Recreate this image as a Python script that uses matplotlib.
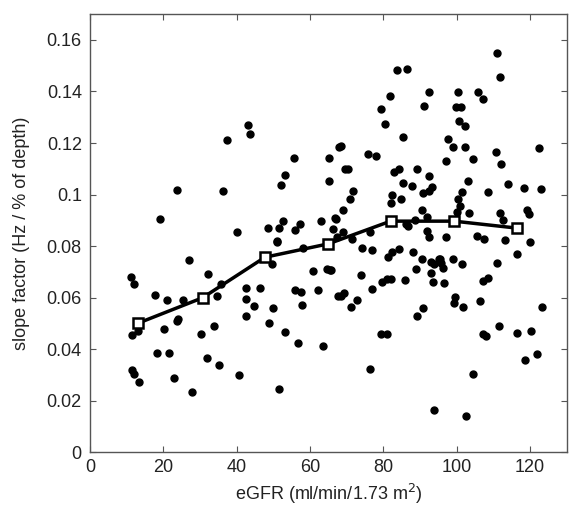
import numpy as np
import matplotlib.pyplot as plt

plt.rcParams['font.family'] = ['Liberation Sans', 'DejaVu Sans']

# individual subjects: eGFR and slope factor
egfr = [19.1, 23.8, 27.0, 36.2, 37.3, 43.1, 43.6, 40.0, 48.6, 51.5, 50.9, 52.7, 52.0, 53.1,
        55.5, 57.3, 56.0, 63.1, 65.1, 65.1, 66.9, 66.4, 67.3, 68.0, 58.0,
        68.4, 69.6, 70.5, 71.6, 70.9, 69.1, 67.0, 69.1, 71.4, 74.1, 77.0, 76.4, 75.9, 78.0,
        79.3, 80.4, 81.8, 83.8, 86.5, 85.3, 82.9, 84.3, 89.1, 85.3, 87.9, 92.4, 93.3, 92.4,
        90.9, 82.3, 82.0, 84.7, 90.6, 91.8, 88.7, 86.8, 86.2, 91.8, 92.4, 88.2, 84.3, 82.3,
        81.4, 91.2, 92.5, 100.3, 99.8, 101.1, 100.7, 102.4, 97.7, 98.9, 102.4, 97.1, 104.5,
        105.9, 107.3, 111.1, 111.8, 110.7, 112.0, 103.0, 101.5, 108.7, 114.0, 118.4, 122.9,
        122.4, 100.4, 100.9, 100.0, 103.4, 111.8, 112.7, 119.3, 119.7, 97.1, 105.7, 107.5,
        113.1, 119.9, 116.4, 99.0, 93.0, 95.5,
        65.4, 73.9, 69.3, 68.4, 72.9, 71.1, 77.0, 79.7, 81.1, 82.0, 85.9, 88.9, 90.6,
        93.9, 95.3, 95.7, 96.2, 92.9, 93.6, 96.5, 101.4, 99.7, 99.3, 101.8, 90.7, 89.1,
        79.5, 80.9, 76.5, 93.8, 102.5, 104.5, 110.9, 107.1, 108.5, 106.4, 111.6, 107.1,
        107.9, 116.4, 120.4, 123.4, 118.7, 122.0,
        11.1, 12.0, 17.6, 20.9, 25.3, 32.3, 34.7, 35.7, 42.4, 46.4, 42.4, 44.8, 42.4, 49.8,
        48.9, 49.5, 51.1, 53.2, 55.9, 57.5, 57.8, 56.6, 60.7, 62.3, 64.7, 65.6, 67.7, 63.6,
        13.0, 11.4, 20.2, 23.9, 23.6, 30.2, 33.9, 18.2, 21.6, 31.8, 35.3, 11.4, 12.1, 13.3,
        23.0, 27.7, 40.7, 51.6]
slope = [0.0906, 0.1019, 0.0747, 0.1015, 0.1211, 0.127, 0.1236, 0.0854, 0.087, 0.087, 0.0819,
         0.0899, 0.1037, 0.1077, 0.1142, 0.0887, 0.0861, 0.0899, 0.1142, 0.1054, 0.0908,
         0.0866, 0.0835, 0.1186, 0.0792,
         0.1187, 0.110, 0.110, 0.1012, 0.0982, 0.0941, 0.0906, 0.0853, 0.0827, 0.0794, 0.0786,
         0.0854, 0.1157, 0.1148, 0.1331, 0.1273, 0.1382, 0.1482, 0.1486, 0.1224, 0.1089,
         0.1098, 0.110, 0.1045, 0.1032, 0.1071, 0.1028, 0.1015, 0.1005, 0.100, 0.0968, 0.0982,
         0.0942, 0.0912, 0.0903, 0.088, 0.0887, 0.0858, 0.0835, 0.0777, 0.079, 0.0777, 0.0757,
         0.1344, 0.1398, 0.1396, 0.134, 0.134, 0.1286, 0.1266, 0.1215, 0.1183, 0.1186, 0.1132,
         0.1137, 0.1396, 0.137, 0.1549, 0.1454, 0.1165, 0.1119, 0.1051, 0.1009, 0.101, 0.104,
         0.1027, 0.1022, 0.1182, 0.0982, 0.0957, 0.0932, 0.0929, 0.0929, 0.0903, 0.0941,
         0.0923, 0.0835, 0.0839, 0.0826, 0.0822, 0.0815, 0.0768, 0.0749, 0.0738, 0.0751,
         0.0709, 0.0689, 0.0618, 0.0605, 0.0593, 0.0564, 0.0635, 0.0661, 0.0671, 0.0671,
         0.0667, 0.071, 0.0751, 0.0732, 0.0751, 0.0734, 0.0716, 0.0697, 0.0661, 0.0657,
         0.0732, 0.0603, 0.0581, 0.0564, 0.056, 0.0531, 0.0458, 0.0458, 0.0322, 0.0163,
         0.0142, 0.0305, 0.0734, 0.0663, 0.0676, 0.0588, 0.0492, 0.0458, 0.045, 0.0464,
         0.0473, 0.0564, 0.036, 0.038,
         0.068, 0.0654, 0.0609, 0.0593, 0.0593, 0.0693, 0.0605, 0.0654, 0.0637, 0.0637,
         0.0596, 0.0568, 0.0531, 0.056, 0.0502, 0.0732, 0.0815, 0.0469, 0.0631, 0.0622,
         0.0573, 0.0426, 0.0702, 0.0631, 0.0713, 0.0709, 0.0605, 0.0413,
         0.0471, 0.0455, 0.048, 0.0519, 0.051, 0.0461, 0.0489, 0.0384, 0.0384, 0.0367,
         0.0338, 0.0319, 0.0303, 0.0272, 0.0289, 0.0234, 0.0301, 0.0248]

# binned means
bin_egfr = [13.2, 30.7, 47.7, 65.0, 82.0, 99.3, 116.5]
bin_slope = [0.0502, 0.0600, 0.0757, 0.0809, 0.0897, 0.0897, 0.0870]

fig = plt.figure(figsize=(5.74, 5.11), dpi=100)
ax = fig.add_axes([0.157, 0.1145, 0.83, 0.858])

ax.plot(egfr, slope, 'o', color='black', markersize=5, zorder=2)
ax.plot(bin_egfr, bin_slope, '-s', color='black', lw=2.5, markersize=7,
        markerfacecolor='white', markeredgecolor='black', markeredgewidth=1.8, zorder=3)

ax.set_xlim(0, 130)
ax.set_ylim(0, 0.17)
ax.set_xticks(np.arange(0, 121, 20))
ax.set_yticks(np.arange(0, 0.161, 0.02))
ax.set_yticklabels(['0', '0.02', '0.04', '0.06', '0.08', '0.1', '0.12', '0.14', '0.16'])
ax.tick_params(direction='in', top=True, right=True, labelsize=13, length=4,
               color='#555555', labelcolor='#222222')
ax.tick_params(axis='y', pad=6)
ax.tick_params(axis='x', pad=5)
for s in ax.spines.values():
    s.set_color('#555555')
    s.set_linewidth(1.0)

ax.set_xlabel('eGFR (ml/min/1.73 m$^2$)', fontsize=13, labelpad=4, color='#222222')
ax.set_ylabel('slope factor (Hz / % of depth)', fontsize=13, labelpad=12, color='#222222')

fig.savefig('out.png', dpi=100)
